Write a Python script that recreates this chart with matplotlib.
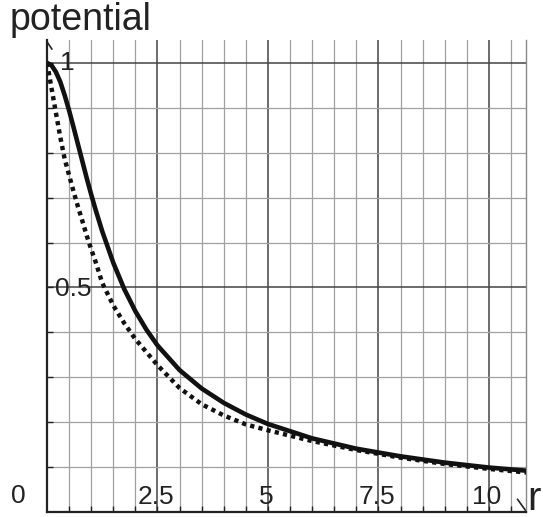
import matplotlib
matplotlib.use("Agg")
import matplotlib.pyplot as plt
import numpy as np

plt.rcParams['font.family'] = ['Liberation Sans', 'DejaVu Sans']

# data
r_vals = [0, 0.1, 0.2, 0.3, 0.4, 0.5, 0.6, 0.7, 0.8, 0.9, 1.0, 1.1, 1.25, 1.5, 1.75,
          2.0, 2.25, 2.5, 3.0, 3.5, 4.0, 4.5, 5.0, 6.0, 7.0, 8.0, 9.0, 10.0, 10.85]
solid_vals = [1.0, 0.995, 0.98, 0.958, 0.928, 0.894, 0.857, 0.819, 0.781, 0.743,
              0.707, 0.673, 0.625, 0.555, 0.496, 0.447, 0.406, 0.371, 0.316, 0.275,
              0.243, 0.217, 0.196, 0.164, 0.141, 0.124, 0.110, 0.099, 0.092]
dashed_vals = [1.0, 0.945, 0.89, 0.835, 0.786, 0.75, 0.714, 0.68, 0.648, 0.615,
               0.585, 0.557, 0.51, 0.46, 0.42, 0.385, 0.356, 0.327, 0.276, 0.24,
               0.215, 0.195, 0.182, 0.158, 0.138, 0.121, 0.107, 0.096, 0.088]
x_tick_vals = [2.5, 5, 7.5, 10]
x_tick_labels = ["2.5", "5", "7.5", "10"]
y_tick_vals = [1.0, 0.5]
y_tick_labels = ["1", "0.5"]

W, H = 543, 517
fig = plt.figure(figsize=(W / 100, H / 100), dpi=100)
left_px, right_px, top_px, bot_px = 47, 526, 40, 512
ax = fig.add_axes([left_px / W, 1 - bot_px / H, (right_px - left_px) / W, (bot_px - top_px) / H])

xmax, ymax = 10.84, 1.051
ax.set_xlim(0, xmax)
ax.set_ylim(0, ymax)

# grid
for xv in np.arange(0.5, xmax, 0.5):
    major = abs(xv / 2.5 - round(xv / 2.5)) < 1e-9
    ax.axvline(xv, color='#444444' if major else '#a0a0a0', lw=1.1 if major else 0.9, zorder=1)
for yv in np.arange(0.1, 1.001, 0.1):
    major = abs(yv / 0.5 - round(yv / 0.5)) < 1e-9
    ax.axhline(yv, color='#444444' if major else '#a0a0a0', lw=1.1 if major else 0.9, zorder=1)

ax.plot(r_vals, dashed_vals, color='#111111', lw=3.2, linestyle=(0, (0.95, 0.95)),
        dash_capstyle='butt', zorder=3)
ax.plot(r_vals, solid_vals, color='#111111', lw=3.3, zorder=4, solid_capstyle='butt',
        solid_joinstyle='round')

ax.spines['top'].set_visible(False)
ax.spines['right'].set_color('#888888')
ax.spines['right'].set_linewidth(1.0)
ax.spines['left'].set_linewidth(1.6)
ax.spines['bottom'].set_linewidth(1.6)
ax.spines['left'].set_color('#222222')
ax.spines['bottom'].set_color('#222222')

ax.set_xticks(np.arange(0.5, xmax, 0.5))
ax.set_yticks(np.arange(0.1, 1.001, 0.1))
ax.tick_params(direction='in', length=4, width=1, color='#222222',
               labelbottom=False, labelleft=False)

# tick labels inside
fs = 19
for xv, lab in zip(x_tick_vals, x_tick_labels):
    ax.text(xv - 0.04, 0.033, lab, ha='center', va='center', fontsize=fs, color='#222222')
ax.text(-0.65, 0.036, "0", ha='center', va='center', fontsize=fs, color='#222222',
        clip_on=False)
ax.text(0.3, y_tick_vals[0], y_tick_labels[0], ha='left', va='center', fontsize=fs, color='#222222')
ax.text(0.17, y_tick_vals[1] - 0.003, y_tick_labels[1], ha='left', va='center', fontsize=fs,
        color='#222222')

# axis arrows (barbs)
ax.plot([0, 0.11], [ymax - 0.004, ymax - 0.02], color='#222222', lw=1.2, clip_on=False)
ax.plot([xmax - 0.19, xmax], [0.028, 0.002], color='#222222', lw=1.2, clip_on=False)

fig.text(10 / W, 1 - 30 / H, "potential", fontsize=27, color='#222222', ha='left', va='baseline')
fig.text(527 / W, 1 - 510 / H, "r", fontsize=29, color='#222222', ha='left', va='baseline')

fig.savefig("out.png", dpi=100)
